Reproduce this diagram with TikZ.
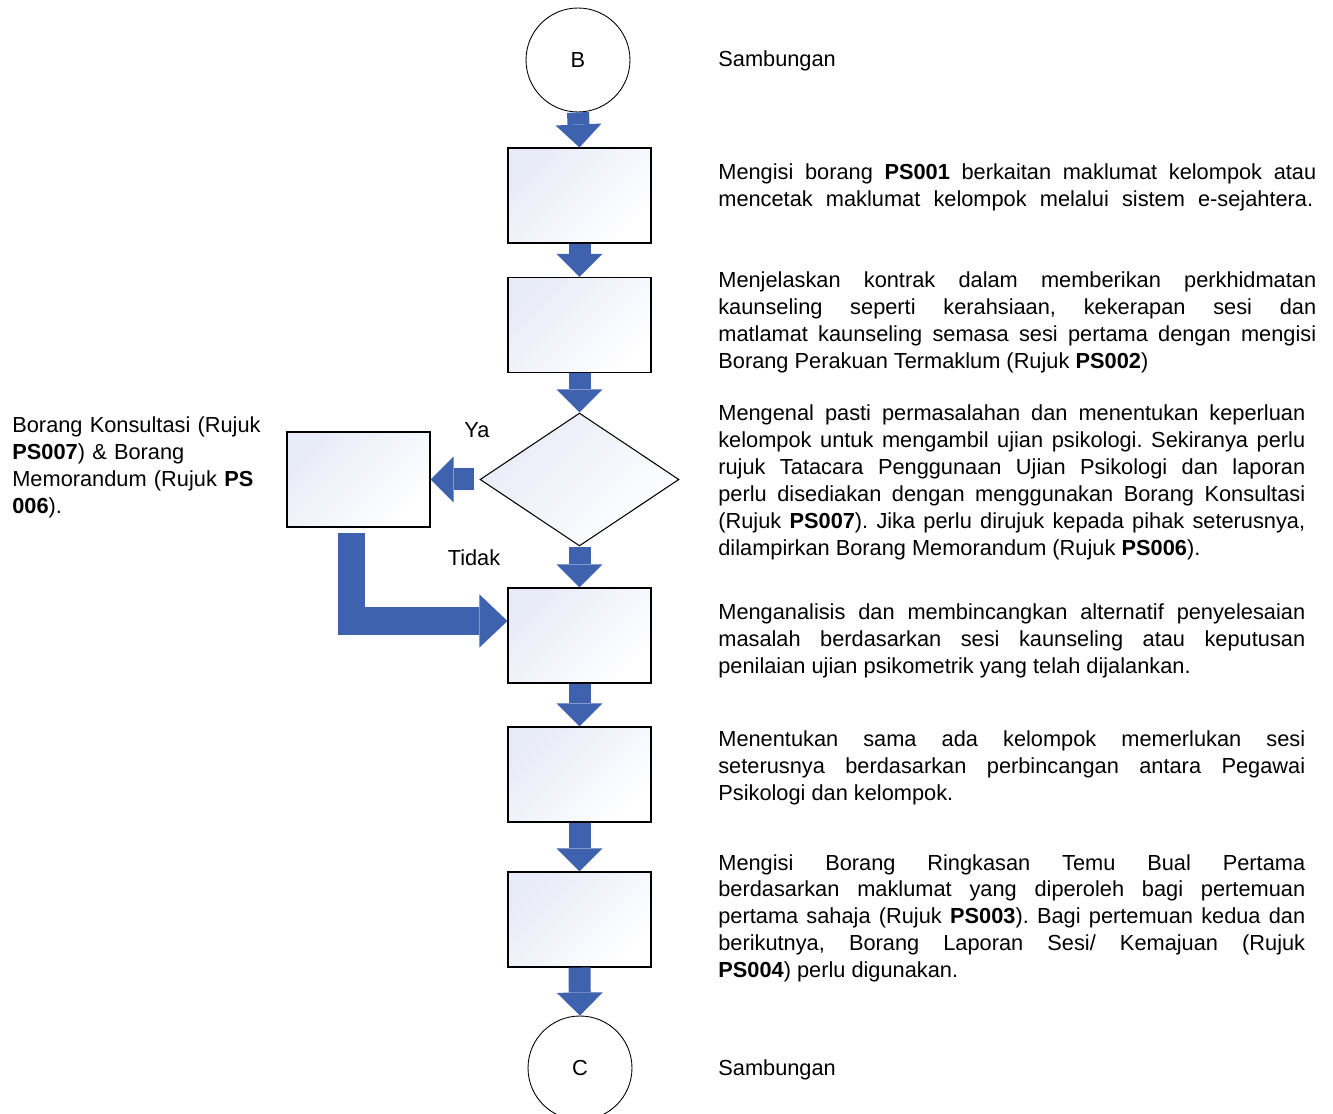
\documentclass[tikz,border=0pt]{standalone}
\usepackage{fontspec}
\setmainfont{Liberation Sans}
\usetikzlibrary{arrows.meta,shapes.geometric,calc}
\definecolor{ab}{RGB}{63,98,174}
\definecolor{bt}{RGB}{232,235,248}
\tikzset{bx/.append style={draw, line width=0.6pt, minimum width=2.86cm, minimum height=1.9cm, inner sep=0, top color=bt, bottom color=white, shading angle=45}}
\tikzset{cc/.append style={draw, circle, fill=white, minimum size=2.08cm, inner sep=0, line width=0.5pt}}
\tikzset{dm/.append style={draw, diamond, minimum width=3.98cm, minimum height=2.66cm, inner sep=0, line width=0.6pt, top color=bt, bottom color=white, shading angle=45}}
\tikzset{ba/.append style={draw=ab, line width=0.44cm, -{Triangle[width=0.92cm, length=0.46cm, line width=0pt]}}}
\tikzset{bb/.append style={draw=ab, line width=0.55cm, line join=miter, -{Triangle[width=1.06cm, length=0.56cm, line width=0pt]}}}
\tikzset{tx/.append style={text width=11.96cm, align=justify, inner sep=0, anchor=base west}}
\hyphenpenalty=10000
\exhyphenpenalty=10000
\frenchspacing

\begin{document}
\begin{tikzpicture}[x=0.02cm, y=-0.02cm, font=\fontsize{12.4}{15.3}\selectfont]
                \useasboundingbox (0,0) rectangle (1333,1114);
                % flow nodes
                \node[cc] (cB) at (578,60) {B};
                \node[bx] (s1) at (579.5,195.5) {};
                \node[bx] (s2) at (579.5,325) {};
                \node[dm] (dq) at (579.5,479.5) {};
                \node[bx] (lb) at (358.5,479.5) {};
                \node[bx] (s4) at (579.5,635.5) {};
                \node[bx] (s5) at (579.5,774.5) {};
                \node[bx] (s6) at (579.5,919.5) {};
                \node[cc] (cC) at (580,1068) {C};
                % block arrows
                \draw[ba] (cB.south) -- (s1.north);
                \draw[ba] (s1.south) -- (s2.north);
                \draw[ba] (s2.south) -- (dq.north);
                \draw[ba] (dq.south) -- (s4.north);
                \draw[ba] (s4.south) -- (s5.north);
                \draw[ba] (s5.south) -- (s6.north);
                \draw[ba] (s6.south) -- (cC.north);
                \draw[ba] ($(dq.west)+(-5,0)$) -- (lb.east);
                \draw[bb] ($(lb.south)+(-7,5)$) |- ($(s4.west)+(0,-14.5)$);
                \node (ya) at (477,430) {Ya};
                \node (td) at (474,558) {Tidak};
                % notes
                \node[tx] (t0) at (718,67) {Sambungan};
                \node[tx] (t1) at (718,180) {Mengisi borang \textbf{PS001} berkaitan maklumat kelompok atau\linebreak \makebox[11.9cm][s]{mencetak maklumat kelompok melalui sistem e-sejahtera.}};
                \node[tx] (t2) at (718,288) {Menjelaskan kontrak dalam memberikan perkhidmatan\linebreak kaunseling seperti kerahsiaan, kekerapan sesi dan\linebreak matlamat kaunseling semasa sesi pertama dengan mengisi\linebreak Borang Perakuan Termaklum (Rujuk \textbf{PS002})};
                \node[tx, text width=11.74cm] (t3) at (718,421) {Mengenal pasti permasalahan dan menentukan keperluan\linebreak kelompok untuk mengambil ujian psikologi. Sekiranya perlu\linebreak rujuk Tatacara Penggunaan Ujian Psikologi dan laporan\linebreak perlu disediakan dengan menggunakan Borang Konsultasi\linebreak (Rujuk \textbf{PS007}). Jika perlu dirujuk kepada pihak seterusnya,\linebreak dilampirkan Borang Memorandum (Rujuk \textbf{PS006}).};
                \node[tx, text width=11.74cm] (t4) at (718,620) {Menganalisis dan membincangkan alternatif penyelesaian\linebreak masalah berdasarkan sesi kaunseling atau keputusan\linebreak penilaian ujian psikometrik yang telah dijalankan.};
                \node[tx, text width=11.74cm] (t5) at (718,747) {Menentukan sama ada kelompok memerlukan sesi\linebreak seterusnya berdasarkan perbincangan antara Pegawai\linebreak Psikologi dan kelompok.};
                \node[tx, text width=11.74cm] (t6) at (718,870) {Mengisi Borang Ringkasan Temu Bual Pertama\linebreak berdasarkan maklumat yang diperoleh bagi pertemuan\linebreak pertama sahaja (Rujuk \textbf{PS003}). Bagi pertemuan kedua dan\linebreak berikutnya, Borang Laporan Sesi/ Kemajuan (Rujuk\linebreak \textbf{PS004}) perlu digunakan.};
                \node[tx] (t7) at (718,1075) {Sambungan};
                \node[tx, text width=5.3cm, align=left] (tl) at (12,433) {Borang Konsultasi (Rujuk\\ \textbf{PS007}) \& Borang\\ Memorandum (Rujuk \textbf{PS}\\ \textbf{006}).};
            \end{tikzpicture}
\end{document}
